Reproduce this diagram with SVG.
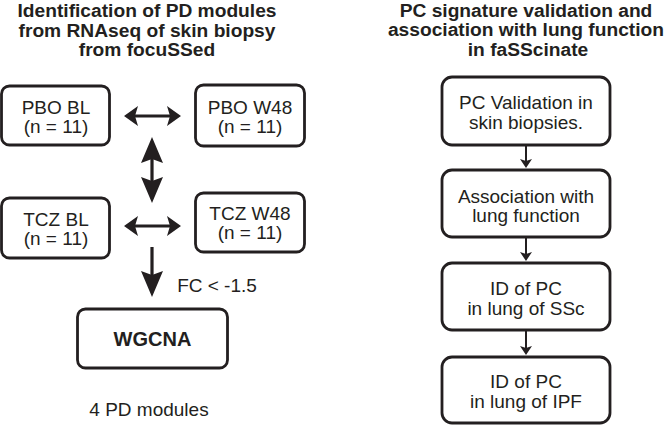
<svg xmlns="http://www.w3.org/2000/svg" width="668" height="425" viewBox="0 0 668 425">
<style>
text{font-family:"Liberation Sans",Arial,sans-serif;fill:#231f20;text-anchor:middle}
.t{font-size:19.2px;font-weight:bold}
.n{font-size:19px}
.b{font-size:20px;font-weight:bold}
rect{fill:#fff;stroke:#231f20;stroke-width:2.8}
.c line{stroke:#231f20}
.thick{stroke-width:3.2}
.thin{stroke-width:2}
</style>
<defs>
<marker id="hz" markerUnits="userSpaceOnUse" markerWidth="14" markerHeight="20" viewBox="0 0 14 20" refX="5" refY="10" orient="auto-start-reverse"><path d="M0,0 L14,10 L0,20 L3,10 z" fill="#231f20"/></marker>
<marker id="big" markerUnits="userSpaceOnUse" markerWidth="26" markerHeight="22" viewBox="0 0 26 22" refX="6" refY="11" orient="auto-start-reverse"><path d="M0,0 L26,11 L0,22 L4,11 z" fill="#231f20"/></marker>
<marker id="sm" markerUnits="userSpaceOnUse" markerWidth="9" markerHeight="12" viewBox="0 0 9 12" refX="3" refY="6" orient="auto-start-reverse"><path d="M0,0 L9,6 L0,12 L2,6 z" fill="#231f20"/></marker>
</defs>
<g id="title-left">
<text class="t" x="147" y="17">Identification of PD modules</text>
<text class="t" x="147" y="36.5">from RNAseq of skin biopsy</text>
<text class="t" x="147" y="56">from focuSSed</text>
</g>
<g id="title-right">
<text class="t" x="526" y="17">PC signature validation and</text>
<text class="t" x="526" y="36">association with lung function</text>
<text class="t" x="528" y="55.5">in faSScinate</text>
</g>
<g id="pbo-bl"><rect x="1.5" y="86" width="108" height="59" rx="8"/><text class="n" x="56" y="114">PBO BL</text><text class="n" x="56" y="133">(n = 11)</text></g>
<g id="pbo-w48"><rect x="195.5" y="85" width="109" height="61" rx="8"/><text class="n" x="250" y="114">PBO W48</text><text class="n" x="250" y="133">(n = 11)</text></g>
<g id="tcz-bl"><rect x="1.5" y="198" width="108" height="60" rx="8"/><text class="n" x="56" y="226">TCZ BL</text><text class="n" x="56" y="245">(n = 11)</text></g>
<g id="tcz-w48"><rect x="195.5" y="193" width="109" height="59" rx="8"/><text class="n" x="250" y="220">TCZ W48</text><text class="n" x="250" y="239">(n = 11)</text></g>
<g id="wgcna"><rect x="77.5" y="309" width="150" height="59" rx="8"/><text class="b" x="152.5" y="346">WGCNA</text></g>
<g id="fc-label"><text class="n" x="217" y="292">FC &lt; -1.5</text></g>
<g id="modules-label"><text class="n" x="149" y="416">4 PD modules</text></g>
<g id="pc-validation"><rect x="442" y="77" width="168" height="68" rx="10"/><text class="n" x="526" y="109">PC Validation in</text><text class="n" x="526" y="128.5">skin biopsies.</text></g>
<g id="association"><rect x="442" y="170" width="168" height="67" rx="10"/><text class="n" x="526" y="203">Association with</text><text class="n" x="526" y="222">lung function</text></g>
<g id="id-ssc"><rect x="442" y="263" width="168" height="67" rx="10"/><text class="n" x="526" y="295">ID of PC</text><text class="n" x="526" y="315">in lung of SSc</text></g>
<g id="id-ipf"><rect x="442" y="357" width="168" height="66" rx="10"/><text class="n" x="526" y="388">ID of PC</text><text class="n" x="526" y="408">in lung of IPF</text></g>
<g id="connectors" class="c">
<line class="thick" x1="133" y1="116" x2="172" y2="116" marker-start="url(#hz)" marker-end="url(#hz)"/>
<line class="thick" x1="133" y1="226" x2="172" y2="226" marker-start="url(#hz)" marker-end="url(#hz)"/>
<line class="thick" x1="152" y1="157" x2="152" y2="183" marker-start="url(#big)" marker-end="url(#big)"/>
<line class="thick" x1="152" y1="247" x2="152" y2="277" marker-end="url(#big)"/>
<line class="thin" x1="526" y1="146" x2="526" y2="162" marker-end="url(#sm)"/>
<line class="thin" x1="526" y1="238" x2="526" y2="255" marker-end="url(#sm)"/>
<line class="thin" x1="526" y1="331" x2="526" y2="349" marker-end="url(#sm)"/>
</g>
</svg>
